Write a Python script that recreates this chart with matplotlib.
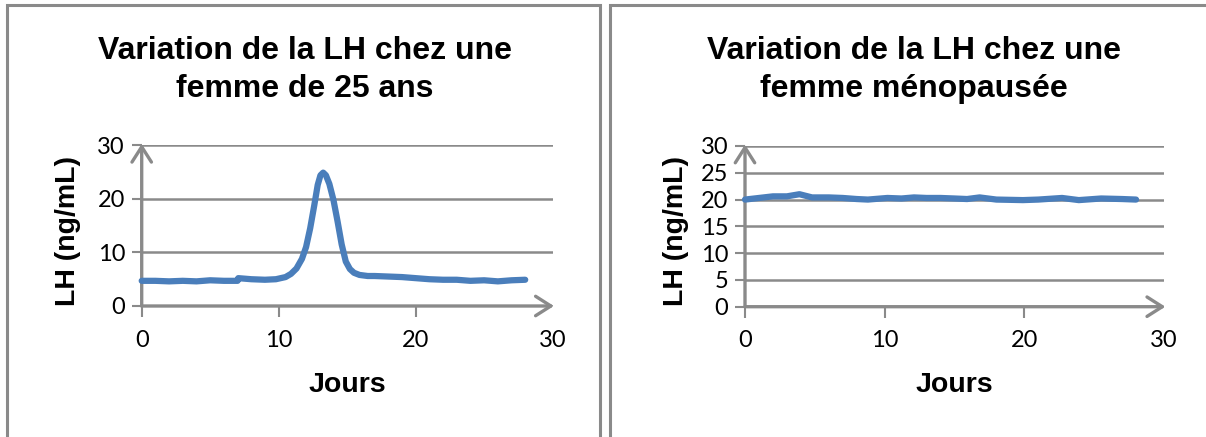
import matplotlib
matplotlib.use("Agg")
import matplotlib.pyplot as plt
from matplotlib.patches import FancyArrowPatch, Rectangle

# data
jours_25 = [0, 1, 2, 3, 4, 5, 6, 7, 7.05, 8, 9, 9.8, 10.5, 10.9, 11.3, 11.7, 12.0,
            12.3, 12.6, 12.85, 13.05, 13.25, 13.45, 13.7, 14.0, 14.3, 14.6, 14.9,
            15.2, 15.5, 15.9, 16.5, 17, 18, 19, 20, 21, 22, 23, 24, 25, 26, 27, 28]
lh_25 = [4.7, 4.7, 4.6, 4.7, 4.6, 4.8, 4.7, 4.7, 5.2, 5.0, 4.9, 5.0, 5.4, 6.0, 7.0,
         8.8, 11.0, 14.5, 18.8, 22.6, 24.4, 24.9, 24.4, 22.8, 19.8, 15.8, 11.5,
         8.3, 6.9, 6.2, 5.8, 5.6, 5.6, 5.5, 5.4, 5.2, 5.0, 4.9, 4.9, 4.7, 4.8, 4.6,
         4.8, 4.9]

jours_meno = [0, 1, 2, 3, 3.9, 4.8, 6, 7, 8, 8.8, 10.2, 11.2, 12.1, 13, 14, 15,
              15.9, 16.8, 18, 19.9, 21, 22.7, 23.9, 25.5, 27, 28]
lh_meno = [20.0, 20.3, 20.6, 20.6, 21.0, 20.4, 20.4, 20.3, 20.1, 20.0, 20.3, 20.2,
           20.4, 20.3, 20.3, 20.2, 20.1, 20.4, 20.0, 19.9, 20.0, 20.3, 19.9, 20.2,
           20.1, 20.0]

titres = ["Variation de la LH chez une\nfemme de 25 ans",
          "Variation de la LH chez une\nfemme ménopausée"]
yticks_list = [[0, 10, 20, 30], [0, 5, 10, 15, 20, 25, 30]]

W, H = 1206, 437
fig = plt.figure(figsize=(W / 100, H / 100), dpi=100)

gris = "#8a8a8a"
bleu = "#4a7ebb"
tick_font = ["Lato", "DejaVu Sans"]
bold_font = ["Liberation Sans", "DejaVu Sans"]

# panel frames (pixels: left, right)
for x0, x1 in [(7, 600), (610, 1215)]:
    fig.patches.append(Rectangle((x0 / W, -0.05), (x1 - x0) / W, 1.05 - 5 / H,
                                 transform=fig.transFigure, fill=False,
                                 edgecolor=gris, lw=2.2))

# axes boxes in pixels: x0 (day 0), x30, y0 (from top), y30
boxes = [(141.7, 552.6, 306, 145.3), (745, 1164, 306.7, 146)]
title_x = [305, 914]
jours_x = [347, 954]
ylab_x = [68, 676]

for i, (xs, ys) in enumerate([(jours_25, lh_25), (jours_meno, lh_meno)]):
    px0, px30, py0, py30 = boxes[i]
    ax = fig.add_axes([px0 / W, (H - py0) / H, (px30 - px0) / W, (py0 - py30) / H])
    ax.set_xlim(0, 30)
    ax.set_ylim(0, 30)
    for s in ax.spines.values():
        s.set_visible(False)
    ax.set_xticks([0, 10, 20, 30])
    ax.set_yticks(yticks_list[i])
    ax.tick_params(axis="y", length=7, width=1.5, color=gris, pad=5,
                   labelsize=17)
    ax.tick_params(axis="x", length=8, width=1.5, color=gris, pad=9,
                   labelsize=17)
    for lab in ax.get_xticklabels() + ax.get_yticklabels():
        lab.set_family(tick_font)
    ax.xaxis.get_major_ticks()[-1].tick1line.set_visible(False)
    ax.yaxis.grid(True, color=gris, lw=1.8)
    ax.set_axisbelow(True)

    # axes with arrows
    ax.add_patch(FancyArrowPatch((0, 0), (0, 30.3), arrowstyle="->,head_length=11,head_width=7",
                                 mutation_scale=1, color=gris, lw=2.4, clip_on=False,
                                 shrinkA=0, shrinkB=0, zorder=2))
    ax.add_patch(FancyArrowPatch((0, 0), (30.1, 0), arrowstyle="->,head_length=11,head_width=7",
                                 mutation_scale=1, color=gris, lw=2.4, clip_on=False,
                                 shrinkA=0, shrinkB=0, zorder=2))

    ax.plot(xs, ys, color=bleu, lw=4.5, solid_capstyle="round",
            solid_joinstyle="round", clip_on=False, zorder=3)

    fig.text(title_x[i] / W, 1 - 70 / H, titres[i], ha="center", va="center",
             fontsize=23, fontweight="bold", family=bold_font, linespacing=1.33)
    fig.text(jours_x[i] / W, 1 - 385 / H, "Jours", ha="center", va="center",
             fontsize=20.5, fontweight="bold", family=bold_font)
    fig.text(ylab_x[i] / W, 1 - 231 / H, "LH (ng/mL)", ha="center", va="center",
             rotation=90, fontsize=20.5, fontweight="bold", family=bold_font)

fig.savefig("out.png", dpi=100, facecolor="white")
